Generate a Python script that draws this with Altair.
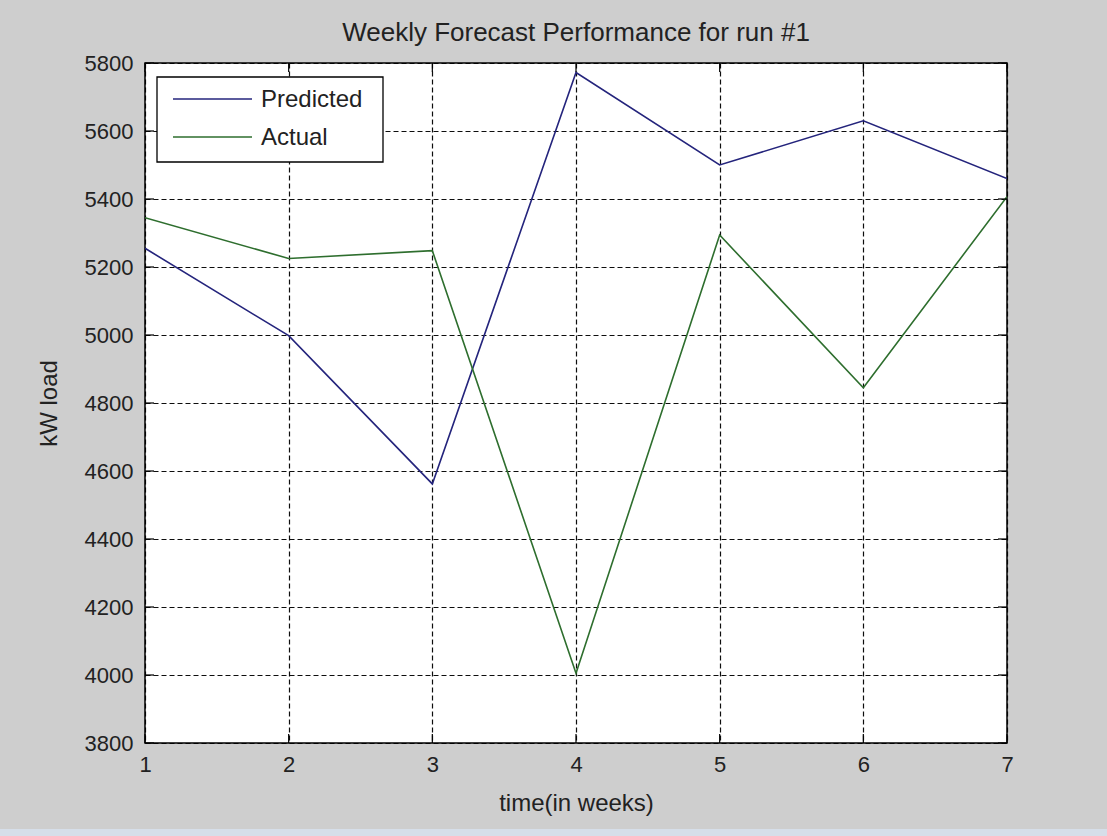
import altair as alt
import pandas as pd

# Weekly load: forecast vs. measured (kW)
weeks = [1, 2, 3, 4, 5, 6, 7]
predicted = [5255, 4998, 4562, 5772, 5500, 5630, 5460]
actual = [5345, 5225, 5248, 4005, 5294, 4845, 5407]

series_names = ["Predicted", "Actual"]
series_colors = ["#24247c", "#2e6e2e"]

y_ticks = list(range(3800, 5801, 200))
x_ticks = weeks

W, H = 862, 680
FONT = "Liberation Sans"
TXT = "#222222"

df = pd.DataFrame(
    {
        "week": weeks * 2,
        "load": predicted + actual,
        "series": [series_names[0]] * len(weeks) + [series_names[1]] * len(weeks),
    }
)

x_scale = alt.Scale(domain=[1, 7], nice=False, zero=False)
y_scale = alt.Scale(domain=[3800, 5800], nice=False, zero=False)
color_scale = alt.Scale(domain=series_names, range=series_colors)

x_axis = alt.Axis(
    values=x_ticks, format="d", grid=True, gridDash=[5, 3], gridColor="#000000",
    gridOpacity=0.95, gridWidth=1.2, ticks=False, domain=False, labelPadding=11,
    labelFlush=False, labelFontSize=22, labelFont=FONT, labelColor=TXT,
    title="time(in weeks)", titleFontSize=24, titleFont=FONT, titleColor=TXT,
    titleFontWeight="normal", titleBaseline="alphabetic", titleY=67, titleX=W / 2,
)
y_axis = alt.Axis(
    values=y_ticks, format="d", grid=True, gridDash=[5, 3], gridColor="#000000",
    gridOpacity=0.95, gridWidth=1.2, ticks=False, domain=False, labelPadding=12,
    labelFlush=False, labelFontSize=22, labelFont=FONT, labelColor=TXT,
    title="kW load", titleFontSize=24, titleFont=FONT, titleColor=TXT,
    titleFontWeight="normal", titleBaseline="alphabetic", titleX=-89, titleY=H / 2,
    titleAngle=270,
)

lines = (
    alt.Chart(df)
    .mark_line(strokeWidth=1.6, clip=True)
    .encode(
        x=alt.X("week:Q", scale=x_scale, axis=x_axis),
        y=alt.Y("load:Q", scale=y_scale, axis=y_axis),
        color=alt.Color("series:N", scale=color_scale, legend=None),
        detail="series:N",
    )
)

# inward tick marks on all four sides of the box
xt = pd.DataFrame({"week": x_ticks})
yt = pd.DataFrame({"load": y_ticks})
tick_style = dict(color="#000000", strokeWidth=1.2)
ticks = [
    alt.Chart(xt).mark_rule(**tick_style).encode(x=alt.X("week:Q", scale=x_scale), y=alt.value(0), y2=alt.value(9)),
    alt.Chart(xt).mark_rule(**tick_style).encode(x=alt.X("week:Q", scale=x_scale), y=alt.value(H - 9), y2=alt.value(H)),
    alt.Chart(yt).mark_rule(**tick_style).encode(y=alt.Y("load:Q", scale=y_scale), x=alt.value(0), x2=alt.value(9)),
    alt.Chart(yt).mark_rule(**tick_style).encode(y=alt.Y("load:Q", scale=y_scale), x=alt.value(W - 9), x2=alt.value(W)),
]

# boxed legend in the upper-left corner
one = pd.DataFrame({"k": [0]})
legend_box = alt.Chart(one).mark_rect(fill="white", stroke="#000000", strokeWidth=1.3).encode(
    x=alt.value(12), x2=alt.value(238), y=alt.value(14), y2=alt.value(99)
)
legend_layers = [legend_box]
for i, (name, col) in enumerate(zip(series_names, series_colors)):
    ypix = 36 + i * 38
    legend_layers.append(
        alt.Chart(one).mark_rule(color=col, strokeWidth=1.6).encode(
            x=alt.value(28), x2=alt.value(107), y=alt.value(ypix)
        )
    )
    legend_layers.append(
        alt.Chart(one).mark_text(
            text=name, align="left", baseline="middle", fontSize=24, font=FONT, color=TXT
        ).encode(x=alt.value(116), y=alt.value(ypix + 1))
    )

# light frame strip along the bottom edge of the window
strip = alt.Chart(one).mark_rect(fill="#d6dee9", clip=False).encode(
    x=alt.value(-145), x2=alt.value(W + 100), y=alt.value(H + 86), y2=alt.value(H + 93)
)

chart = (
    alt.layer(lines, *ticks, *legend_layers, strip)
    .properties(
        width=W,
        height=H,
        title=alt.TitleParams(
            "Weekly Forecast Performance for run #1", fontSize=26, font=FONT,
            fontWeight="normal", color=TXT, anchor="middle", frame="group",
            baseline="alphabetic", offset=22, dy=37,
        ),
        autosize=alt.AutoSizeParams(type="none"),
        padding={"left": 145, "top": 63, "right": 100, "bottom": 93},
    )
    .configure(background="#cecece")
    .configure_view(fill="white", stroke="#000000", strokeWidth=1.5)
)

chart.save("out.html", embed_options={"renderer": "svg", "actions": False})
